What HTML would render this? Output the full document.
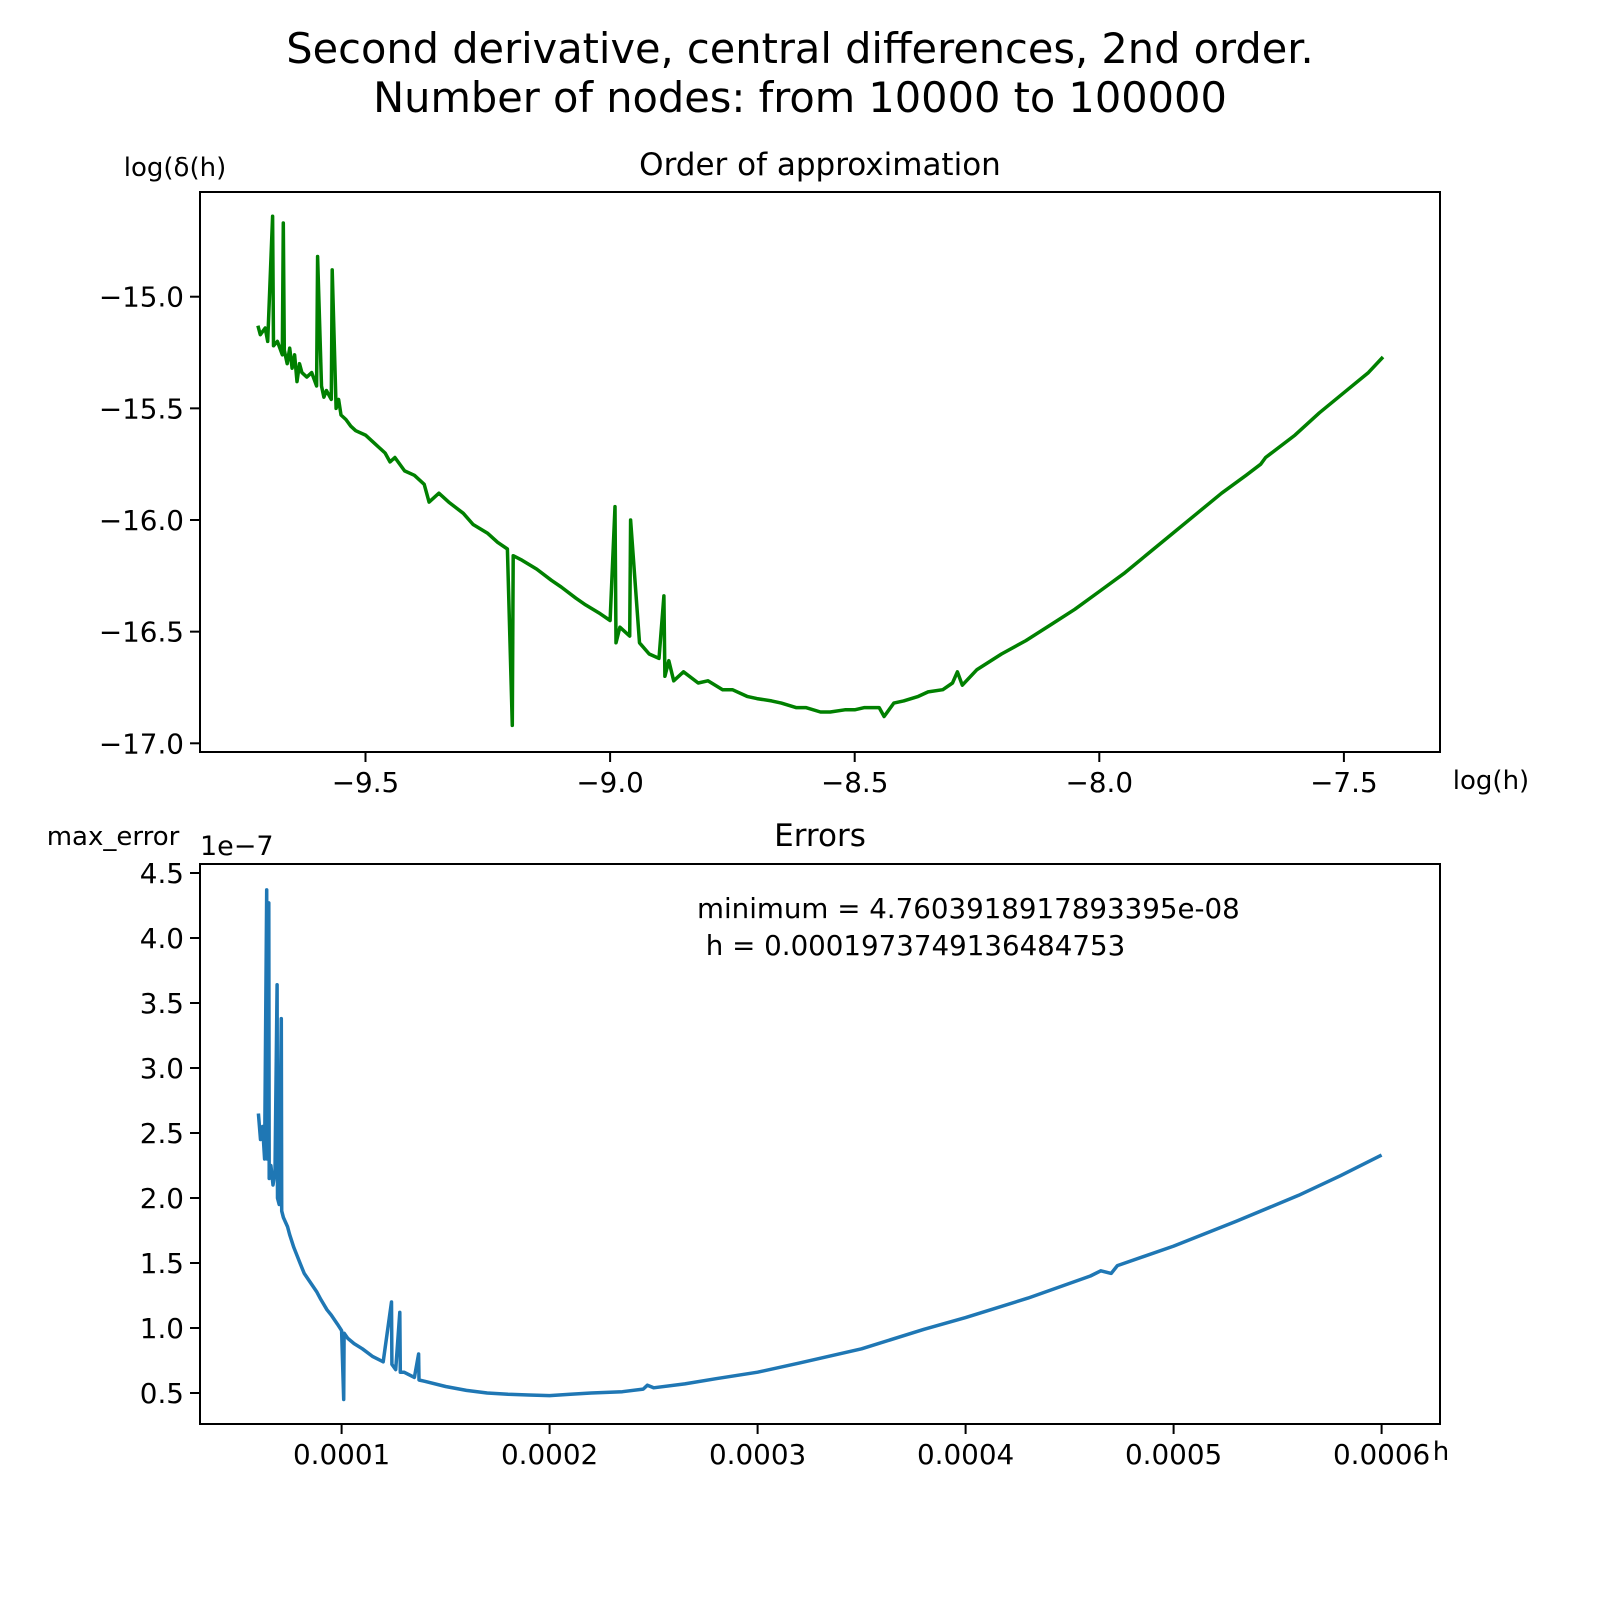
<!DOCTYPE html>
<html><head><meta charset="utf-8"><style>
html,body{margin:0;padding:0;background:#fff}
svg{display:block;font-family:"DejaVu Sans","Liberation Sans",sans-serif}
</style></head><body>
<svg id="fig" width="1600" height="1600" viewBox="0 0 1600 1600">
<text x="800" y="63" font-size="41.5" text-anchor="middle">Second derivative, central differences, 2nd order.</text>
<text x="800" y="112" font-size="41.5" text-anchor="middle">Number of nodes: from 10000 to 100000</text>
<text x="820" y="175" font-size="31" text-anchor="middle">Order of approximation</text>
<text x="175" y="176" font-size="26" text-anchor="middle">log(δ(h)</text>
<text x="1491" y="789" font-size="26" text-anchor="middle">log(h)</text>
<text x="820" y="846" font-size="31" text-anchor="middle">Errors</text>
<text x="113" y="845" font-size="26" text-anchor="middle">max_error</text>
<text x="200" y="855" font-size="27">1e−7</text>
<text x="1441" y="1460" font-size="26" text-anchor="middle">h</text>
<text x="697" y="918" font-size="27.7">minimum = 4.7603918917893395e-08</text>
<text x="697" y="955" font-size="27.7" xml:space="preserve"> h = 0.0001973749136484753</text>
<g id="top"></g>
<g id="bot"></g>
</svg>
<script>
const topX=[-9.72,-9.715,-9.705,-9.70,-9.69,-9.688,-9.68,-9.67,-9.668,-9.666,-9.66,-9.655,-9.65,-9.645,-9.64,-9.635,-9.63,-9.62,-9.61,-9.60,-9.598,-9.59,-9.585,-9.58,-9.57,-9.568,-9.56,-9.555,-9.55,-9.54,-9.53,-9.52,-9.5,-9.48,-9.46,-9.45,-9.44,-9.42,-9.40,-9.38,-9.37,-9.35,-9.33,-9.30,-9.28,-9.25,-9.23,-9.21,-9.20,-9.198,-9.18,-9.15,-9.12,-9.10,-9.07,-9.05,-9.02,-9.0,-8.99,-8.988,-8.98,-8.96,-8.958,-8.94,-8.92,-8.90,-8.89,-8.888,-8.88,-8.87,-8.85,-8.82,-8.80,-8.77,-8.75,-8.72,-8.70,-8.67,-8.65,-8.62,-8.60,-8.57,-8.55,-8.52,-8.50,-8.48,-8.45,-8.44,-8.42,-8.40,-8.37,-8.35,-8.32,-8.30,-8.29,-8.28,-8.25,-8.20,-8.15,-8.10,-8.05,-8.0,-7.95,-7.9,-7.85,-7.8,-7.75,-7.7,-7.67,-7.66,-7.6,-7.55,-7.5,-7.45,-7.42];
const topY=[-15.13,-15.17,-15.14,-15.2,-14.64,-15.22,-15.2,-15.26,-14.67,-15.24,-15.3,-15.23,-15.32,-15.26,-15.38,-15.3,-15.34,-15.36,-15.34,-15.4,-14.82,-15.4,-15.45,-15.42,-15.46,-14.88,-15.5,-15.46,-15.53,-15.55,-15.58,-15.6,-15.62,-15.66,-15.7,-15.74,-15.72,-15.78,-15.8,-15.84,-15.92,-15.88,-15.92,-15.97,-16.02,-16.06,-16.1,-16.13,-16.92,-16.16,-16.18,-16.22,-16.27,-16.3,-16.35,-16.38,-16.42,-16.45,-15.94,-16.55,-16.48,-16.52,-16.0,-16.55,-16.6,-16.62,-16.34,-16.7,-16.63,-16.72,-16.68,-16.73,-16.72,-16.76,-16.76,-16.79,-16.8,-16.81,-16.82,-16.84,-16.84,-16.86,-16.86,-16.85,-16.85,-16.84,-16.84,-16.88,-16.82,-16.81,-16.79,-16.77,-16.76,-16.73,-16.68,-16.74,-16.67,-16.6,-16.54,-16.47,-16.4,-16.32,-16.24,-16.15,-16.06,-15.97,-15.88,-15.8,-15.75,-15.72,-15.62,-15.52,-15.43,-15.34,-15.27];
const topXTicks=[-9.5,-9.0,-8.5,-8.0,-7.5];
const topXTickLabels=["−9.5","−9.0","−8.5","−8.0","−7.5"];
const topYTicks=[-15.0,-15.5,-16.0,-16.5,-17.0];
const topYTickLabels=["−15.0","−15.5","−16.0","−16.5","−17.0"];

const botX=[0.6,0.61,0.62,0.63,0.64,0.642,0.65,0.652,0.66,0.67,0.68,0.69,0.692,0.70,0.71,0.712,0.72,0.74,0.75,0.77,0.8,0.82,0.85,0.88,0.9,0.93,0.95,0.98,1.0,1.01,1.012,1.03,1.06,1.1,1.15,1.2,1.24,1.242,1.26,1.28,1.282,1.3,1.35,1.37,1.372,1.4,1.5,1.6,1.7,1.8,1.9,2.0,2.1,2.2,2.35,2.45,2.47,2.5,2.65,2.8,3.0,3.2,3.5,3.8,4.0,4.3,4.6,4.65,4.7,4.73,5.0,5.3,5.6,5.8,6.0];
const botY=[2.65,2.45,2.55,2.3,4.37,2.3,4.27,2.15,2.25,2.1,2.2,3.64,2.0,1.95,3.38,1.9,1.85,1.78,1.72,1.62,1.5,1.42,1.35,1.28,1.22,1.14,1.1,1.03,0.98,0.45,0.96,0.92,0.88,0.84,0.78,0.74,1.2,0.72,0.68,1.12,0.66,0.66,0.62,0.8,0.6,0.59,0.55,0.52,0.5,0.49,0.485,0.48,0.49,0.5,0.51,0.53,0.56,0.54,0.57,0.61,0.66,0.73,0.84,0.99,1.08,1.23,1.4,1.44,1.42,1.48,1.63,1.82,2.02,2.17,2.33];
const botXTicks=[1,2,3,4,5,6];
const botXTickLabels=["0.0001","0.0002","0.0003","0.0004","0.0005","0.0006"];
const botYTicks=[0.5,1.0,1.5,2.0,2.5,3.0,3.5,4.0,4.5];
const botYTickLabels=["0.5","1.0","1.5","2.0","2.5","3.0","3.5","4.0","4.5"];

const NS="http://www.w3.org/2000/svg";
function mk(parent,tag,attrs){const e=document.createElementNS(NS,tag);for(const k in attrs)e.setAttribute(k,attrs[k]);parent.appendChild(e);return e;}

function axes(g,L,T,R,B,sx,sy,xt,xl,yt,yl,xs,ys,color,lw,prefix){
  const line=mk(g,'polyline',{points:xs.map((v,i)=>sx(v).toFixed(1)+','+sy(ys[i]).toFixed(1)).join(' '),fill:'none',stroke:color,'stroke-width':lw,'stroke-linejoin':'round'});
  
  
  const fr=mk(g,'rect',{x:L,y:T,width:R-L,height:B-T,fill:'none',stroke:'#000','stroke-width':2});
  
  
  xt.forEach((v,i)=>{const x=sx(v);
    mk(g,'line',{x1:x,x2:x,y1:B,y2:B+10,stroke:'#000','stroke-width':2});
    const t=mk(g,'text',{x:x,y:B+40,'font-size':27.8,'text-anchor':'middle'});t.textContent=xl[i];
    
    });
  yt.forEach((v,i)=>{const y=sy(v);
    mk(g,'line',{x1:L-10,x2:L,y1:y,y2:y,stroke:'#000','stroke-width':2});
    const t=mk(g,'text',{x:L-16,y:y+10,'font-size':27.8,'text-anchor':'end'});t.textContent=yl[i];
    
    });
}
const tsx=v=>365.5+(v+9.5)*489.2, tsy=v=>296.7+(-15-v)*223.3;
axes(document.getElementById('top'),200,192,1440,752,tsx,tsy,topXTicks,topXTickLabels,topYTicks,topYTickLabels,topX,topY,'#008000',3.5,'top');
const bsx=v=>341.6+(v-1)*208.0, bsy=v=>1393-(v-0.5)*130;
axes(document.getElementById('bot'),200,864,1440,1424,bsx,bsy,botXTicks,botXTickLabels,botYTicks,botYTickLabels,botX,botY,'#1f77b4',3.5,'bottom');
</script>
</body></html>
